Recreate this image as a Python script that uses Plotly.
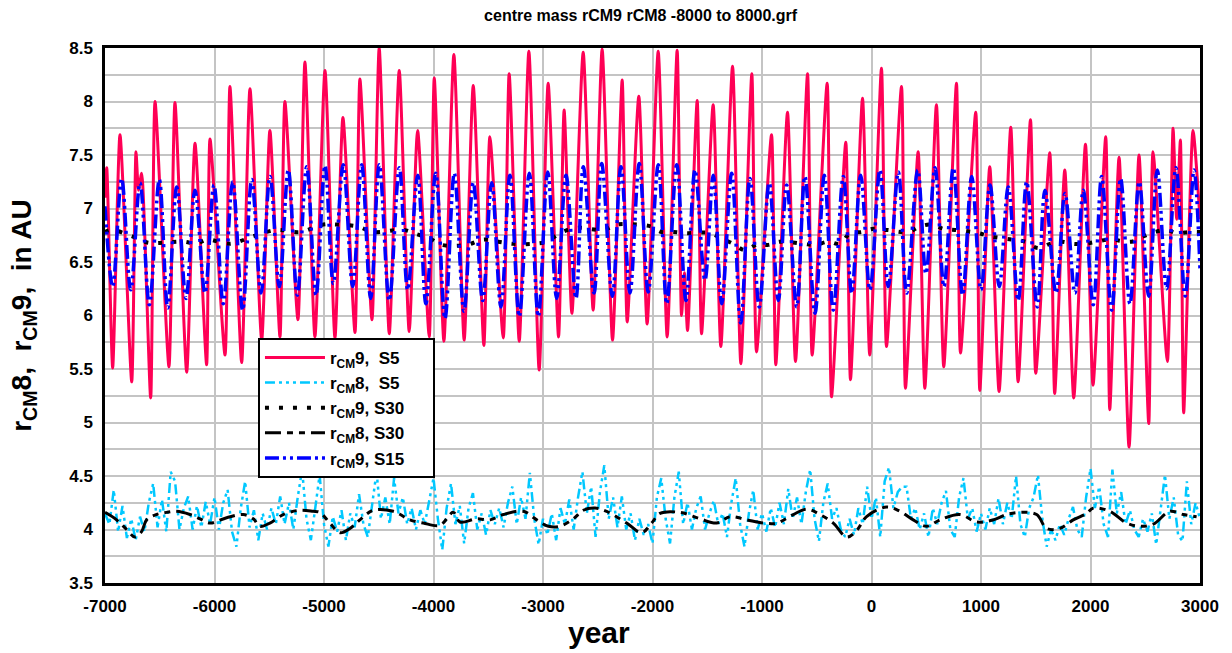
import plotly.graph_objects as go

# ---------------- data ----------------
red_years = [-7000, -6984, -6930, -6863, -6756, -6717, -6694, -6665, -6583, -6543,
             -6416, -6361, -6254, -6178, -6072, -6041, -5904, -5859, -5752, -5676,
             -5569, -5494, -5402, -5357, -5238, -5174, -5083, -4991, -4900, -4827,
             -4717, -4672, -4562, -4496, -4404, -4313, -4222, -4145, -4039, -3993,
             -3905, -3814, -3720, -3637, -3540, -3485, -3363, -3309, -3217, -3129,
             -3035, -2953, -2858, -2807, -2736, -2633, -2542, -2460, -2365, -2277,
             -2231, -2125, -2049, -1948, -1866, -1775, -1735, -1709, -1680, -1592,
             -1552, -1446, -1376, -1269, -1193, -1093, -1050, -913, -874, -767,
             -694, -584, -542, -405, -365, -235, -192, -82, -16, 91,
             137, 274, 310, 426, 487, 593, 660, 776, 813, 952,
             989, 1080, 1165, 1272, 1339, 1452, 1500, 1628, 1673, 1765,
             1847, 1954, 2023, 2139, 2176, 2261, 2352, 2443, 2532, 2571,
             2702, 2754, 2787, 2821, 2851, 2936, 3000]
red_vals = [7.10, 7.38, 5.51, 7.69, 5.38, 7.53, 7.17, 7.33, 5.23, 8.00,
            5.52, 7.99, 5.47, 7.61, 5.54, 7.65, 5.63, 8.14, 5.56, 8.12,
            5.77, 7.73, 5.80, 8.00, 5.96, 8.37, 5.80, 8.29, 5.79, 7.85,
            5.84, 8.21, 5.96, 8.50, 5.83, 8.29, 5.85, 7.73, 5.80, 8.22,
            5.76, 8.44, 5.77, 8.15, 5.72, 7.67, 5.79, 8.26, 5.76, 8.47,
            5.49, 8.17, 5.80, 7.92, 6.02, 8.46, 6.05, 8.49, 5.77, 8.20,
            5.94, 8.05, 5.92, 8.47, 5.80, 8.48, 6.00, 6.40, 5.86, 8.01,
            5.83, 7.97, 5.71, 8.33, 5.55, 8.26, 5.66, 7.69, 5.54, 7.90,
            5.57, 8.26, 5.63, 8.17, 5.24, 7.62, 5.40, 8.03, 5.63, 8.31,
            5.71, 8.14, 5.32, 7.53, 5.32, 7.97, 5.52, 8.17, 5.65, 7.90,
            5.30, 7.39, 5.29, 7.76, 5.38, 7.83, 5.46, 7.52, 5.27, 7.36,
            5.23, 7.60, 5.35, 7.67, 5.12, 7.48, 4.77, 7.50, 4.99, 7.53,
            5.57, 7.75, 6.90, 7.64, 5.09, 7.73, 6.90]

blue_years = [-7000, -6930, -6848, -6765, -6680, -6595, -6504, -6427, -6345, -6260,
              -6178, -6087, -6005, -5920, -5834, -5743, -5660, -5575, -5493, -5408,
              -5326, -5244, -5158, -5073, -4991, -4915, -4824, -4738, -4656, -4574,
              -4495, -4404, -4312, -4236, -4144, -4069, -3980, -3895, -3810, -3722,
              -3637, -3551, -3469, -3384, -3302, -3217, -3125, -3043, -2957, -2875,
              -2790, -2699, -2632, -2534, -2464, -2367, -2288, -2206, -2121, -2039,
              -1947, -1870, -1779, -1694, -1612, -1521, -1445, -1368, -1277, -1195,
              -1110, -1025, -934, -851, -775, -683, -608, -516, -431, -349,
              -258, -181, -99, -14, 77, 153, 245, 321, 422, 497,
              580, 662, 747, 832, 915, 1000, 1082, 1167, 1249, 1340,
              1417, 1514, 1584, 1685, 1767, 1858, 1934, 2025, 2102, 2193,
              2275, 2360, 2445, 2531, 2610, 2695, 2780, 2865, 2945, 3000]
blue_vals = [7.02, 6.27, 7.28, 6.24, 7.24, 6.10, 7.27, 6.07, 7.20, 6.16,
             7.17, 6.21, 7.22, 6.11, 7.25, 6.05, 7.27, 6.21, 7.30, 6.27,
             7.36, 6.19, 7.39, 6.19, 7.40, 6.30, 7.41, 6.27, 7.41, 6.16,
             7.41, 6.14, 7.38, 6.24, 7.31, 6.11, 7.33, 5.97, 7.33, 6.04,
             7.24, 6.14, 7.24, 6.08, 7.31, 5.99, 7.33, 5.99, 7.34, 6.16,
             7.31, 6.16, 7.39, 6.21, 7.42, 6.18, 7.39, 6.21, 7.42, 6.22,
             7.41, 6.11, 7.41, 6.14, 7.36, 6.33, 7.31, 6.11, 7.33, 5.93,
             7.28, 6.08, 7.24, 6.14, 7.22, 6.08, 7.30, 6.02, 7.31, 6.05,
             7.30, 6.21, 7.31, 6.24, 7.36, 6.27, 7.34, 6.21, 7.36, 6.39,
             7.38, 6.27, 7.38, 6.19, 7.30, 6.24, 7.22, 6.27, 7.20, 6.14,
             7.25, 6.08, 7.17, 6.21, 7.14, 6.21, 7.17, 6.10, 7.30, 6.05,
             7.28, 6.11, 7.25, 6.18, 7.36, 6.25, 7.38, 6.18, 7.36, 6.43]

s30_9_years = [-7000, -6940, -6726, -6605, -6285, -6163, -6072, -5859, -5646, -5433,
               -5220, -5006, -4885, -4687, -4550, -4276, -4154, -4032, -3926, -3697,
               -3545, -3408, -3271, -3088, -2967, -2845, -2693, -2449, -2327, -2145,
               -2007, -1916, -1810, -1688, -1475, -1368, -1262, -1155, -1033, -942,
               -836, -623, -516, -394, -288, -196, -90, 17, 139, 336,
               437, 549, 655, 762, 975, 1082, 1279, 1401, 1523, 1630,
               1736, 1843, 1949, 2056, 2177, 2375, 2482, 2588, 2695, 2786,
               2908, 3000]
s30_9_vals = [6.78, 6.80, 6.73, 6.68, 6.69, 6.67, 6.71, 6.67, 6.74, 6.80,
              6.78, 6.85, 6.85, 6.83, 6.78, 6.80, 6.76, 6.72, 6.66, 6.66,
              6.71, 6.69, 6.67, 6.67, 6.69, 6.77, 6.82, 6.80, 6.85, 6.85,
              6.83, 6.78, 6.78, 6.77, 6.77, 6.72, 6.67, 6.61, 6.67, 6.66,
              6.69, 6.67, 6.66, 6.69, 6.67, 6.77, 6.78, 6.81, 6.80, 6.78,
              6.83, 6.85, 6.81, 6.80, 6.77, 6.74, 6.71, 6.69, 6.63, 6.67,
              6.69, 6.67, 6.67, 6.69, 6.71, 6.69, 6.74, 6.78, 6.80, 6.77,
              6.78, 6.78]

s30_8_years = [-7000, -6894, -6802, -6726, -6666, -6620, -6529, -6437, -6346, -6224,
               -6133, -6041, -5889, -5737, -5646, -5585, -5494, -5372, -5220, -5098,
               -5037, -4946, -4854, -4763, -4672, -4550, -4367, -4215, -4093, -3941,
               -3819, -3758, -3606, -3484, -3362, -3180, -3058, -2951, -2845, -2723,
               -2632, -2525, -2419, -2236, -2099, -2008, -1932, -1749, -1566, -1414,
               -1292, -1140, -988, -866, -714, -592, -471, -349, -227, -136,
               -45, 138, 260, 381, 503, 625, 807, 960, 1112, 1234,
               1355, 1508, 1599, 1721, 1842, 1964, 2025, 2177, 2329, 2451,
               2573, 2725, 2847, 2969]
s30_8_vals = [4.16, 4.09, 4.00, 3.93, 3.98, 4.09, 4.14, 4.16, 4.17, 4.14,
              4.10, 4.06, 4.11, 4.14, 4.10, 4.03, 4.06, 4.14, 4.18, 4.17,
              4.16, 4.06, 3.97, 4.01, 4.09, 4.18, 4.17, 4.09, 4.06, 4.04,
              4.16, 4.07, 4.10, 4.09, 4.14, 4.17, 4.09, 4.03, 4.03, 4.10,
              4.18, 4.20, 4.17, 4.06, 3.97, 4.06, 4.15, 4.16, 4.10, 4.06,
              4.12, 4.09, 4.06, 4.06, 4.14, 4.19, 4.14, 4.06, 3.93, 3.99,
              4.12, 4.21, 4.17, 4.09, 4.03, 4.09, 4.14, 4.07, 4.09, 4.14,
              4.16, 4.14, 4.01, 4.01, 4.09, 4.15, 4.20, 4.17, 4.06, 4.03,
              4.05, 4.17, 4.14, 4.12]

# rCM8 S5 sampled every 40 years from -7000 to 3000
cyan_years = list(range(-7000, 3001, 40))
cyan_vals = [
    4.15, 4.05, 4.37, 3.98, 4.22, 3.92, 4.10, 3.90, 4.12, 3.98,
    4.25, 4.43, 4.02, 4.28, 3.98, 4.54, 4.45, 4.00, 4.20, 4.31,
    4.00, 4.22, 4.02, 4.26, 4.05, 4.30, 4.00, 4.25, 4.37, 3.98,
    3.84, 4.20, 4.45, 4.02, 4.18, 3.90, 4.15, 4.00, 4.20, 4.05,
    4.31, 4.05, 4.25, 4.00, 4.30, 4.56, 4.10, 3.90, 4.20, 4.51,
    4.05, 3.84, 4.12, 3.98, 4.18, 3.90, 4.15, 4.02, 4.33, 4.05,
    3.93, 4.25, 4.54, 4.10, 4.30, 4.05, 4.48, 4.15, 4.30, 4.05,
    4.20, 4.00, 4.18, 4.05, 4.25, 4.48, 4.10, 3.81, 4.20, 4.43,
    4.05, 4.22, 3.87, 4.20, 4.34, 4.00, 4.15, 3.95, 4.18, 4.05,
    4.20, 4.02, 4.25, 4.40, 4.05, 4.30, 4.10, 4.53, 4.10, 3.86,
    4.10, 3.95, 4.15, 3.90, 4.20, 4.05, 4.28, 4.00, 4.30, 4.54,
    4.15, 4.40, 3.93, 4.35, 4.60, 4.10, 4.30, 4.02, 4.31, 4.00,
    4.15, 3.90, 4.10, 3.95, 4.05, 3.87, 4.30, 4.48, 4.10, 3.87,
    4.30, 4.54, 4.05, 4.25, 4.00, 4.20, 4.31, 4.00, 4.15, 4.27,
    4.05, 4.15, 3.93, 4.25, 4.48, 4.05, 3.84, 4.15, 4.37, 4.00,
    4.15, 3.98, 4.20, 4.02, 4.25, 4.05, 4.38, 4.10, 4.30, 4.05,
    4.35, 4.56, 4.10, 3.89, 4.25, 4.43, 4.10, 4.20, 4.00, 3.93,
    4.10, 3.95, 4.20, 4.05, 4.40, 4.10, 4.30, 3.93, 4.45, 4.58,
    4.20, 4.35, 4.40, 4.40, 4.10, 4.20, 4.00, 4.15, 3.93, 4.20,
    4.05, 4.25, 4.36, 4.00, 3.93, 4.30, 4.48, 4.10, 4.20, 3.98,
    4.15, 4.00, 4.20, 4.05, 4.29, 4.05, 4.25, 4.10, 4.50, 4.05,
    3.93, 4.20, 4.30, 4.51, 4.10, 3.84, 4.00, 3.90, 4.05, 3.95,
    4.10, 4.21, 4.00, 3.93, 4.30, 4.57, 4.20, 4.40, 4.05, 3.93,
    4.56, 4.15, 4.35, 4.05, 4.18, 4.00, 3.93, 4.10, 3.98, 4.15,
    3.86, 4.20, 4.51, 4.10, 4.30, 3.95, 3.89, 4.45, 4.05, 4.25,
    4.10]

x_ticks = [-7000, -6000, -5000, -4000, -3000, -2000, -1000, 0, 1000, 2000, 3000]
x_tick_labels = ["-7000", "-6000", "-5000", "-4000", "-3000", "-2000", "-1000",
                 "0", "1000", "2000", "3000"]
y_ticks = [3.5, 4, 4.5, 5, 5.5, 6, 6.5, 7, 7.5, 8, 8.5]
y_tick_labels = ["3.5", "4", "4.5", "5", "5.5", "6", "6.5", "7", "7.5", "8", "8.5"]

NB = "\u00a0"
TRAIL = NB * 5
names = {
    "r9s5": f"<b>r<sub>CM</sub>9,{NB}{NB}S5</b>{TRAIL}",
    "r8s5": f"<b>r<sub>CM</sub>8,{NB}{NB}S5</b>{TRAIL}",
    "r9s30": f"<b>r<sub>CM</sub>9,{NB}S30</b>{TRAIL}",
    "r8s30": f"<b>r<sub>CM</sub>8,{NB}S30</b>{TRAIL}",
    "r9s15": f"<b>r<sub>CM</sub>9,{NB}S15</b>{TRAIL}",
}

FONT = "Liberation Sans, Arial, sans-serif"

fig = go.Figure()
fig.add_trace(go.Scatter(x=red_years, y=red_vals, mode="lines", name=names["r9s5"],
                         line=dict(color="#FF0055", width=3, shape="spline", smoothing=0.6),
                         legendrank=1))
fig.add_trace(go.Scatter(x=cyan_years, y=cyan_vals, mode="lines", name=names["r8s5"],
                         line=dict(color="#00C8FF", width=2.5,
                                   dash="10px,4px,3px,4px,3px,4px,3px,4px"),
                         legendrank=2))
fig.add_trace(go.Scatter(x=s30_8_years, y=s30_8_vals, mode="lines", name=names["r8s30"],
                         line=dict(color="black", width=3, shape="spline",
                                   dash="16px,6px,6px,6px,6px,6px"),
                         legendrank=4))
fig.add_trace(go.Scatter(x=s30_9_years, y=s30_9_vals, mode="lines", name=names["r9s30"],
                         line=dict(color="black", width=4, shape="spline", dash="4px,10px"),
                         legendrank=3))
fig.add_trace(go.Scatter(x=blue_years, y=blue_vals, mode="lines", name=names["r9s15"],
                         line=dict(color="#0000FF", width=3.5, shape="spline", smoothing=1,
                                   dash="14px,4px,3px,4px,3px,4px"),
                         legendrank=5))

fig.update_layout(
    width=1232, height=653,
    margin=dict(l=105, r=32, t=48, b=70, autoexpand=False),
    paper_bgcolor="white", plot_bgcolor="white",
    font=dict(family=FONT, color="black"),
    title=dict(text="<b>centre mass rCM9 rCM8 -8000 to 8000.grf</b>",
               font=dict(family="Liberation Sans Narrow, Liberation Sans, Arial", size=16),
               x=0.52, xanchor="center", y=0.977, yanchor="middle"),
    showlegend=True,
    legend=dict(x=0.1397, y=0.458, xanchor="left", yanchor="top",
                bgcolor="white", bordercolor="black", borderwidth=2,
                font=dict(family=FONT, size=17, color="black"),
                itemwidth=60, tracegroupgap=0, traceorder="normal"),
    annotations=[dict(text="<b>year</b>", xref="paper", yref="paper",
                      x=0.451, y=-0.092, xanchor="center", yanchor="middle",
                      showarrow=False, font=dict(family=FONT, size=30, color="black"))],
)
fig.update_xaxes(range=[-7000, 3000], tickvals=x_ticks, ticktext=x_tick_labels,
                 showgrid=True, gridcolor="#C4C4C4", gridwidth=1.5,
                 showline=True, linecolor="black", linewidth=2.5, mirror=True,
                 ticks="", zeroline=False, automargin=False, ticklabelstandoff=6,
                 tickfont=dict(family=FONT, size=17, weight="bold"))
fig.update_yaxes(range=[3.5, 8.5], tickvals=y_ticks, ticktext=y_tick_labels,
                 showgrid=True, gridcolor="#C4C4C4", gridwidth=1.5,
                 minor=dict(dtick=0.25, tick0=3.5, showgrid=True, gridcolor="#C4C4C4", gridwidth=1.5),
                 showline=True, linecolor="black", linewidth=2.5, mirror=True,
                 ticks="", zeroline=False, automargin=False, ticklabelstandoff=6,
                 tickfont=dict(family=FONT, size=17, weight="bold"),
                 title=dict(text=f"<b>r<sub>CM</sub>8,{NB}{NB}r<sub>CM</sub>9,{NB}{NB}in AU</b>",
                            font=dict(family=FONT, size=28), standoff=30))

fig.write_html("out.html", config={"displayModeBar": False},
               post_script="document.body.style.margin='0';document.body.style.padding='0';")
